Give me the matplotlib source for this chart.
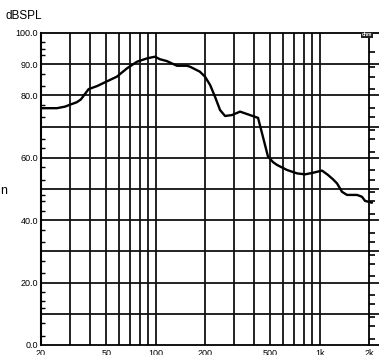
import matplotlib.pyplot as plt
from matplotlib.ticker import FixedLocator, NullFormatter

plt.rcParams['font.family'] = ['Liberation Sans', 'DejaVu Sans']

# respuesta en frecuencia
freq = [20, 25, 28, 30, 33, 35, 37, 39, 44, 50, 58, 67, 77, 89, 99, 106, 117, 135, 155, 162,
        186, 200, 215, 230, 247, 265, 292, 327, 376, 410, 421, 445, 484, 520, 550, 632, 728,
        815, 911, 1034, 1124, 1200, 1276, 1368, 1468, 1690, 1812, 1890, 2084]
spl = [75.9, 75.9, 76.4, 77.0, 77.8, 78.7, 80.4, 82.0, 83.0, 84.4, 86.0, 88.7, 90.8, 91.9,
       92.4, 91.6, 91.0, 89.5, 89.5, 89.2, 87.6, 86.0, 83.3, 79.6, 75.3, 73.4, 73.7, 74.8,
       73.7, 73.0, 72.8, 67.9, 60.4, 58.6, 57.7, 56.1, 55.0, 54.7, 55.2, 55.9, 54.5, 53.2,
       51.8, 49.1, 48.1, 48.1, 47.5, 46.2, 45.6]

grid_x = [30, 40, 50, 60, 70, 80, 90, 100, 200, 300, 400, 500, 600, 700, 800, 900, 1000]
grid_y = [10, 20, 30, 40, 50, 60, 70, 80, 90]
xticks = [20, 50, 100, 200, 500, 1000, 2000]
xlabels = ['20', '50', '100', '200', '500', '1k', '2k']
yticks = [0, 20, 40, 60, 80, 90, 100]
ylabels = ['0.0', '20.0', '40.0', '60.0', '80.0', '90.0', '100.0']

fig = plt.figure(figsize=(3.79, 3.55), dpi=100)
ax = fig.add_axes([41 / 379, 10 / 355, 1 - 41 / 379, 312 / 355])

ax.set_xscale('log')
ax.set_xlim(20, 2300)
ax.set_ylim(0, 100)

for gx in grid_x:
    ax.axvline(gx, color='#111', lw=1.3, zorder=1)
for gy in grid_y:
    ax.axhline(gy, color='#111', lw=1.3, zorder=1)

ax.plot(freq, spl, color='black', lw=1.7, zorder=3,
        solid_joinstyle='round', solid_capstyle='round')

ax.set_xticks(xticks)
ax.set_xticklabels(xlabels, fontsize=6.5)
ax.xaxis.set_minor_locator(FixedLocator([]))
ax.xaxis.set_minor_formatter(NullFormatter())
ax.tick_params(axis='x', length=0, pad=3)

ax.set_yticks(yticks)
ax.set_yticklabels(ylabels, fontsize=6.5)
ax.yaxis.set_minor_locator(FixedLocator([3, 7, 12, 14, 17, 23, 27, 33, 37, 43, 46, 48,
                                         53, 57, 63, 66, 73, 77, 83, 87, 93, 95, 97]))
ax.tick_params(axis='y', which='major', length=0, pad=2)
ax.tick_params(axis='y', which='minor', direction='in', length=3, width=1)

ax.spines['right'].set_visible(False)
ax.spines['left'].set_linewidth(1.5)
ax.spines['top'].set_linewidth(1.3)
ax.spines['bottom'].set_linewidth(1.3)

# eje derecho (impedancia) en 2k
ax2 = ax.twinx()
ax2.set_ylim(0, 100)
ax2.spines['right'].set_position(('data', 2000))
ax2.spines['right'].set_linewidth(1.3)
for s in ['left', 'top', 'bottom']:
    ax2.spines[s].set_visible(False)
ax2.yaxis.set_major_locator(FixedLocator([2, 6, 9, 13, 16, 22, 26, 29, 33, 36, 42, 46,
                                          49, 53, 56, 62, 66, 69, 73, 76, 82, 86, 89, 94]))
ax2.yaxis.set_major_formatter(NullFormatter())
ax2.tick_params(axis='y', direction='out', length=4, width=1.2)

fig.text(6 / 379, 1 - 16 / 355, 'dBSPL', fontsize=8.5, va='center', ha='left')
fig.text(0, 1 - 191 / 355, 'n', fontsize=9, va='center', ha='left')
fig.text(362 / 379, 1 - 35 / 355, 'ohm', fontsize=3.5, color='white', weight='bold',
         va='center', ha='left',
         bbox=dict(facecolor='#222', edgecolor='none', pad=0.5))

plt.savefig('out.png', dpi=100)
